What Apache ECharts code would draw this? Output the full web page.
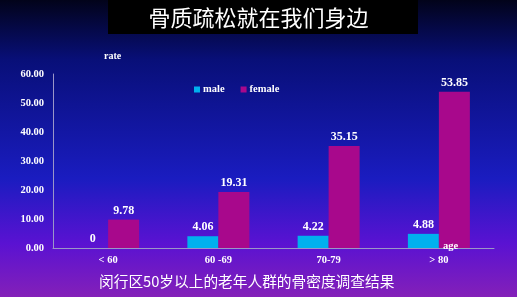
<!DOCTYPE html>
<html><head><meta charset="utf-8">
<script src="https://cdn.jsdelivr.net/npm/echarts@6/dist/echarts.min.js"></script>
<style>html,body{margin:0;padding:0;}#c{width:517px;height:297px;}</style>
</head><body><div id="c"></div>
<script>
const categories = ['< 60', '60 -69', '70-79', '> 80'];
const maleValues = [0, 4.06, 4.22, 4.88];
const femaleValues = [9.78, 19.31, 35.15, 53.85];
const yTicks = [0, 10, 20, 30, 40, 50, 60];
const titleText = '骨质疏松就在我们身边';
const subtitleText = '闵行区50岁以上的老年人群的骨密度调查结果';

const serif = '"Liberation Serif","DejaVu Serif",serif';
const chart = echarts.init(document.getElementById('c'));
const lbl = {show: true, position: 'top', color: '#ffffff', fontFamily: serif, fontWeight: 'bold', fontSize: 12, distance: 3};
chart.setOption({
  animation: false,
  graphic: [
    {type: 'rect', z: -10, silent: true, shape: {x: 0, y: 0, width: 517, height: 297},
     style: {fill: new echarts.graphic.LinearGradient(0, 0, 0, 1, [
       {offset: 0, color: '#02031a'},
       {offset: 0.2, color: '#080f78'},
       {offset: 0.6, color: '#1a1cc0'},
       {offset: 0.82, color: '#5a12d2'},
       {offset: 1, color: '#8420b8'}])}},
    {type: 'rect', z: 1, shape: {x: 108, y: 0, width: 310, height: 34}, style: {fill: '#000000'}},
    {type: 'text', z: 2, left: 'center', top: 7, style: {text: titleText, fill: '#ffffff', font: '22px "Noto Sans CJK SC"'}},
    {type: 'text', z: 2, left: 99, top: 274, style: {text: subtitleText, fill: '#ffffff', font: '14.7px "Noto Sans CJK SC"'}},
    {type: 'text', z: 2, left: 104, top: 51, style: {text: 'rate', fill: '#ffffff', font: 'bold 10px ' + serif}},
    {type: 'text', z: 100, zlevel: 1, left: 443, top: 241, style: {text: 'age', fill: '#ffffff', font: 'bold 10.5px ' + serif}}
  ],
  legend: {
    data: ['male', 'female'], left: 189, top: 79, itemWidth: 6, itemHeight: 6, itemGap: 16,
    icon: 'rect', textStyle: {color: '#ffffff', fontFamily: serif, fontWeight: 'bold', fontSize: 10.5, padding: [0, 0, 0, -2]}
  },
  grid: {left: 53, right: 23, top: 74, bottom: 49},
  xAxis: {
    type: 'category', data: categories,
    axisLine: {lineStyle: {color: '#9a96c8', width: 1}}, axisTick: {show: false},
    axisLabel: {color: '#ffffff', fontFamily: serif, fontWeight: 'bold', fontSize: 10.5, margin: 7}
  },
  yAxis: {
    type: 'value', min: 0, max: 60, interval: 10,
    axisLine: {show: true, lineStyle: {color: '#9a96c8', width: 1}}, axisTick: {show: false},
    splitLine: {show: false},
    axisLabel: {color: '#ffffff', fontFamily: serif, fontWeight: 'bold', fontSize: 10.5, margin: 9,
      formatter: v => yTicks.includes(v) ? v.toFixed(2) : ''}
  },
  series: [
    {name: 'male', type: 'bar', data: maleValues, barWidth: 31, barGap: '0%', itemStyle: {color: '#00b0ee'}, label: lbl},
    {name: 'female', type: 'bar', data: femaleValues, barWidth: 31, itemStyle: {color: '#a8088c'}, label: lbl}
  ]
});
</script></body></html>
